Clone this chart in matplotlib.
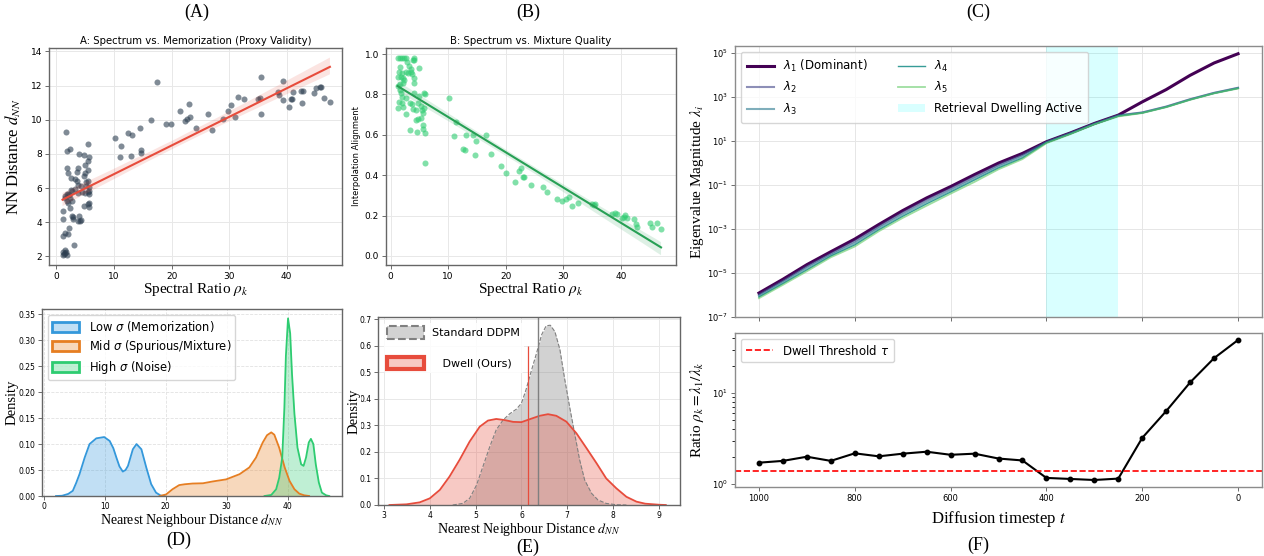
import numpy as np
import matplotlib.pyplot as plt
import matplotlib.patches as mpatches
import seaborn as sns

plt.rcParams['font.family'] = ['DejaVu Sans']
plt.rcParams['mathtext.fontset'] = 'dejavusans'

SERIF = ['Liberation Serif', 'DejaVu Serif']

# ---------------- data ----------------
# (A) spectral ratio vs nearest-neighbour distance
a_rho = [10.1, 11.0, 11.2, 12.5, 12.9, 13.1, 14.5, 14.6, 14.7, 16.4, 17.5, 19.1, 19.9,
         21.5, 22.4, 22.6, 23.1, 23.2, 24.3, 26.4, 27.1, 28.9, 29.8, 30.4, 31.0, 31.6,
         32.6, 35.0, 35.4, 35.6, 35.6, 38.4, 38.6, 39.3, 39.4, 40.4, 40.7, 40.9, 41.1,
         42.5, 42.7, 42.8, 44.7, 45.1, 45.7, 45.9, 46.5, 47.5,
         1.57, 1.86, 2.33, 1.86, 1.92, 3.9, 4.7, 3.8, 3.6, 3.2, 2.5, 4.9, 5.4, 5.7, 5.4,
         5.5, 5.0, 4.7, 3.55, 5.1, 5.5, 3.8, 4.25, 5.1, 5.65, 5.7, 3.2, 2.45, 2.7, 1.86,
         2.15, 1.5, 1.46, 1.75, 1.92, 2.33, 2.7, 2.0, 3.8, 4.5, 4.95, 5.4, 5.65, 5.65,
         5.4, 5.7, 4.8, 2.4, 1.1, 2.7, 2.85, 3.8, 4.1, 4.3, 3.95, 1.2, 2.8, 2.15, 1.46,
         1.92, 1.05, 3.1, 1.46, 1.63, 1.17, 1.3, 1.05, 1.75, 1.46]
a_dnn = [8.96, 7.82, 8.47, 9.24, 7.90, 9.10, 9.53, 8.22, 8.04, 9.97, 12.19, 9.77, 9.73,
         10.54, 9.91, 10.03, 10.91, 10.16, 9.53, 10.34, 9.42, 10.03, 10.54, 10.85, 10.18,
         11.36, 11.19, 11.19, 11.29, 10.34, 12.50, 11.60, 11.46, 12.25, 11.13, 10.73,
         11.23, 11.23, 11.60, 11.70, 10.97, 11.66, 11.54, 11.84, 11.90, 11.90, 11.25, 11.05,
         9.28, 8.20, 8.26, 7.15, 6.90, 8.0, 7.92, 7.15, 6.94, 6.56, 6.58, 7.35, 8.59, 7.8,
         7.6, 7.07, 6.9, 6.72, 6.43, 6.37, 6.39, 6.17, 6.13, 6.11, 6.09, 5.83, 5.93, 5.87,
         5.83, 5.64, 5.60, 5.54, 5.40, 5.24, 5.15, 5.44, 5.24, 5.64, 5.70, 5.80, 5.74,
         5.78, 5.64, 5.15, 5.09, 4.89, 4.97, 4.85, 4.64, 4.36, 4.30, 4.06, 4.10, 4.14,
         4.34, 4.18, 4.22, 3.67, 3.36, 3.34, 3.22, 2.67, 2.39, 2.29, 2.25, 2.14, 2.06,
         2.10, 2.18]

# (B) spectral ratio vs interpolation alignment
b_rho = [1.2, 1.6, 2.0, 2.4, 2.7, 4.0, 4.1, 2.9, 3.2, 1.56, 3.6, 5.0, 3.9, 1.45, 2.0,
         2.6, 3.06, 3.5, 3.76, 1.27, 1.73, 2.2, 2.4, 4.0, 4.0, 1.6, 2.1, 1.27, 1.6, 1.85,
         2.0, 2.6, 4.0, 5.8, 6.0, 5.0, 1.45, 1.33, 2.2, 2.0, 3.35, 3.8, 4.7, 4.5, 3.9,
         5.2, 5.5, 5.8, 5.7, 2.7, 4.8, 5.2, 4.5, 5.55, 5.7, 3.35, 4.6, 5.9, 5.9,
         10.2, 11.3, 11.0, 13.1, 14.3, 14.8, 16.5, 12.5, 12.95, 14.6, 17.5, 19.1, 20.0,
         21.6, 22.4, 22.6, 23.0, 23.2, 24.4, 26.4, 27.1, 28.9, 29.8, 30.5, 31.0, 31.6,
         32.5, 35.0, 35.4, 35.5, 38.5, 39.0, 39.3, 40.2, 40.5, 40.8, 41.0, 42.3, 42.6,
         42.9, 45.0, 45.5, 46.3, 47.0]
b_align = [0.98, 0.98, 0.98, 0.98, 0.98, 0.98, 0.97, 0.96, 0.94, 0.937, 0.925, 0.93,
           0.97, 0.91, 0.908, 0.912, 0.904, 0.912, 0.90, 0.885, 0.888, 0.88, 0.871, 0.88,
           0.855, 0.851, 0.858, 0.842, 0.822, 0.805, 0.789, 0.78, 0.808, 0.808, 0.80,
           0.792, 0.764, 0.731, 0.739, 0.756, 0.759, 0.752, 0.759, 0.723, 0.729, 0.742,
           0.723, 0.731, 0.706, 0.703, 0.678, 0.681, 0.673, 0.649, 0.629, 0.624, 0.612,
           0.607, 0.462,
           0.784, 0.662, 0.596, 0.599, 0.599, 0.568, 0.601, 0.530, 0.525, 0.500, 0.503,
           0.446, 0.413, 0.366, 0.422, 0.434, 0.389, 0.389, 0.351, 0.340, 0.315, 0.282,
           0.272, 0.282, 0.290, 0.248, 0.264, 0.256, 0.251, 0.257, 0.21, 0.215, 0.21,
           0.19, 0.195, 0.205, 0.19, 0.185, 0.16, 0.145, 0.165, 0.145, 0.165, 0.135]

# (C) eigenvalue spectrum over the reverse diffusion
timesteps = [1000, 950, 900, 850, 800, 750, 700, 650, 600, 550, 500,
             450, 400, 350, 300, 250, 200, 150, 100, 50, 0]
lam1 = [1.23e-6, 5.2e-6, 2.4e-5, 9.3e-5, 3.5e-4, 1.6e-3, 6.9e-3, 2.6e-2, 8.5e-2, 0.30, 1.0,
        2.75, 9.3, 23.4, 63, 151, 603, 2190, 9770, 35500, 93300]
lam2 = [1.05e-6, 4.4e-6, 2.0e-5, 7.6e-5, 2.8e-4, 1.3e-3, 5.6e-3, 2.1e-2, 6.9e-2, 0.24, 0.82,
        2.35, 9.1, 23.0, 62, 148, 200, 370, 800, 1560, 2650]
lam3 = [9.2e-7, 3.8e-6, 1.7e-5, 6.6e-5, 2.3e-4, 1.1e-3, 4.6e-3, 1.7e-2, 5.7e-2, 0.20, 0.70,
        2.0, 8.8, 22.2, 60, 143, 195, 360, 780, 1520, 2580]
lam4 = [8.1e-7, 3.3e-6, 1.4e-5, 5.9e-5, 1.9e-4, 9.2e-4, 3.8e-3, 1.4e-2, 4.8e-2, 0.17, 0.60,
        1.7, 8.4, 21.3, 58, 137, 191, 352, 762, 1490, 2500]
lam5 = [7.15e-7, 2.9e-6, 1.2e-5, 5.2e-5, 1.6e-4, 7.9e-4, 3.2e-3, 1.15e-2, 4.05e-2, 0.139, 0.52,
        1.51, 7.95, 20.5, 56.8, 131, 187, 345, 746, 1467, 2436]
dwell_start, dwell_end = 400, 250

# (F) spectral ratio and threshold
ratio = [1.72, 1.80, 2.0, 1.80, 2.18, 2.02, 2.16, 2.27, 2.10, 2.16, 1.91,
         1.82, 1.17, 1.14, 1.11, 1.15, 3.22, 6.34, 13.1, 24.2, 38.3]
tau = 1.4

# (D) density curves per noise level
low_x = [2.0, 3.0, 4.0, 4.75, 5.3, 5.85, 6.7, 7.5, 8.6, 9.9, 10.8, 11.4, 11.9, 12.4, 12.95,
         13.4, 13.8, 14.6, 15.2, 16.0, 16.8, 17.6, 18.4, 19.2, 19.8]
low_y = [0.0, 0.0005, 0.004, 0.010, 0.025, 0.042, 0.074, 0.100, 0.111, 0.1135, 0.106, 0.092,
         0.074, 0.057, 0.047, 0.050, 0.058, 0.090, 0.100, 0.090, 0.055, 0.023, 0.0065,
         0.0006, 0.0]
mid_x = [19.0, 20.05, 21.1, 22.2, 23.1, 24.4, 26.1, 27.7, 29.9, 32.1, 33.7, 34.8, 35.9,
         36.6, 37.3, 37.8, 38.6, 39.5, 40.3, 41.1, 41.9, 42.7, 43.5]
mid_y = [0.0, 0.003, 0.013, 0.021, 0.0226, 0.024, 0.0245, 0.028, 0.032, 0.042, 0.055, 0.074,
         0.103, 0.117, 0.1225, 0.118, 0.093, 0.055, 0.029, 0.013, 0.0045, 0.0013, 0.0]
high_x = [36.2, 37.3, 38.1, 38.6, 39.1, 39.45, 39.7, 40.05, 40.4, 40.7, 41.1, 41.6, 42.2,
          42.6, 43.0, 43.45, 43.8, 44.2, 44.6, 45.1, 45.6, 46.3, 46.8]
high_y = [0.0, 0.002, 0.013, 0.035, 0.074, 0.17, 0.27, 0.342, 0.313, 0.235, 0.158, 0.093,
          0.061, 0.058, 0.074, 0.103, 0.11, 0.10, 0.061, 0.026, 0.0065, 0.0013, 0.0]

# (E) standard vs dwell sampler
std_x = [4.5, 4.72, 4.87, 5.02, 5.16, 5.31, 5.45, 5.6, 5.74, 5.89, 6.0, 6.1, 6.2, 6.33,
         6.44, 6.54, 6.63, 6.73, 6.84, 6.94, 7.05, 7.16, 7.27, 7.38, 7.53, 7.67, 7.85,
         8.07, 8.29]
std_y = [0.0, 0.006, 0.025, 0.075, 0.145, 0.22, 0.283, 0.32, 0.343, 0.361, 0.383, 0.434,
         0.496, 0.572, 0.641, 0.675, 0.677, 0.653, 0.585, 0.478, 0.371, 0.27, 0.17, 0.094,
         0.044, 0.019, 0.006, 0.001, 0.0]
dwell_x = [3.12, 3.49, 3.78, 4.0, 4.22, 4.43, 4.65, 4.87, 5.09, 5.27, 5.45, 5.63, 5.82,
           6.0, 6.18, 6.4, 6.58, 6.76, 6.98, 7.2, 7.42, 7.64, 7.85, 8.07, 8.29, 8.51,
           8.7, 9.0, 9.15]
dwell_y = [0.0, 0.0025, 0.01, 0.025, 0.057, 0.107, 0.17, 0.239, 0.295, 0.318, 0.324, 0.32,
           0.313, 0.312, 0.323, 0.336, 0.342, 0.336, 0.314, 0.27, 0.214, 0.157, 0.10,
           0.063, 0.031, 0.0126, 0.005, 0.001, 0.0]
std_mean, dwell_mean = 6.37, 6.15

# ---------------- layout ----------------
W, H = 1264, 556
fig = plt.figure(figsize=(W / 100, H / 100), dpi=100)


def box(l, t, r, b):
    return [l / W, 1 - b / H, (r - l) / W, (b - t) / H]


def style(ax, tick_size, spine='#666666'):
    for s in ax.spines.values():
        s.set_color(spine)
        s.set_linewidth(1.0)
    ax.tick_params(labelsize=tick_size, length=3, width=0.6, color='#555555', pad=2)
    ax.grid(True, color='#e8e8e8', lw=0.7)
    ax.set_axisbelow(True)


def serif_label(ax, axis, text, size, coord):
    kw = dict(fontsize=size, family=SERIF, math_fontfamily='stix')
    if axis == 'x':
        ax.set_xlabel(text, **kw)
        ax.xaxis.set_label_coords(0.5, coord)
    else:
        ax.set_ylabel(text, **kw)
        ax.yaxis.set_label_coords(coord, 0.5)


axA = fig.add_axes(box(49, 48, 342, 265))
axB = fig.add_axes(box(386, 48, 676, 265))
axC = fig.add_axes(box(735, 46, 1262, 317))
axD = fig.add_axes(box(42, 309, 342, 496))
axE = fig.add_axes(box(378, 317, 680, 505))
axF = fig.add_axes(box(735, 333, 1262, 487))

# ---- A ----
sns.regplot(x=np.array(a_rho), y=np.array(a_dnn), ax=axA, seed=0,
            scatter_kws=dict(s=19, alpha=0.6, color='#2c3e50', linewidths=0),
            line_kws=dict(color='#e74c3c', lw=1.5))
style(axA, 6.5)
axA.set_xlim(-1.3, 49.6)
axA.set_ylim(1.5, 14.2)
axA.set_xticks([0, 10, 20, 30, 40])
axA.set_yticks([2, 4, 6, 8, 10, 12, 14])
axA.set_title('A: Spectrum vs. Memorization (Proxy Validity)', fontsize=7.3, pad=3)
serif_label(axA, 'x', r'Spectral Ratio $\rho_k$', 11, -0.072)
serif_label(axA, 'y', r'NN Distance $d_{NN}$', 12, -0.09)

# ---- B ----
sns.regplot(x=np.array(b_rho), y=np.array(b_align), ax=axB, seed=0,
            scatter_kws=dict(s=19, alpha=0.6, color='#2ecc71', linewidths=0),
            line_kws=dict(color='#27a055', lw=1.5))
style(axB, 6.5)
axB.set_xlim(-0.8, 49.6)
axB.set_ylim(-0.045, 1.03)
axB.set_xticks([0, 10, 20, 30, 40])
axB.set_title('B: Spectrum vs. Mixture Quality', fontsize=7.3, pad=3)
serif_label(axB, 'x', r'Spectral Ratio $\rho_k$', 11, -0.072)
axB.set_ylabel('Interpolation Alignment', fontsize=6)
axB.yaxis.set_label_coords(-0.085, 0.5)

# ---- C ----
c_styles = [(lam1, '#440154', 2.2, 1.0, r'$\lambda_1$ (Dominant)'),
            (lam2, '#414487', 1.5, 0.6, r'$\lambda_2$'),
            (lam3, '#2a788e', 1.5, 0.6, r'$\lambda_3$'),
            (lam4, '#21918c', 1.0, 0.9, r'$\lambda_4$'),
            (lam5, '#5ec962', 1.3, 0.6, r'$\lambda_5$')]
for lam, c, lw, alpha, name in c_styles:
    axC.plot(timesteps, lam, color=c, lw=lw, alpha=alpha, label=name)
axC.axvspan(dwell_start, dwell_end, color='cyan', alpha=0.15, lw=0,
            label='Retrieval Dwelling Active')
axC.set_yscale('log')
axC.set_xlim(1050, -50)
axC.set_ylim(1e-7, 2.1e5)
axC.set_yticks([1e-7, 1e-5, 1e-3, 1e-1, 1e1, 1e3, 1e5])
axC.set_xticks([1000, 800, 600, 400, 200, 0])
style(axC, 6, spine='#8c8c8c')
axC.minorticks_off()
axC.tick_params(labelbottom=False)
axC.grid(True, color='#e6e6e6', lw=0.7)
axC.legend(loc='upper left', ncol=2, fontsize=8.5, handlelength=2.3, framealpha=0.8,
           borderpad=0.5, labelspacing=0.55, columnspacing=2.5)
serif_label(axC, 'y', r'Eigenvalue Magnitude $\lambda_i$', 11, -0.055)

# ---- F ----
axF.plot(timesteps, ratio, color='black', marker='o', ms=3.2, lw=1.5)
axF.axhline(tau, color='red', ls='--', lw=1.2, label=r'Dwell Threshold $\tau$')
axF.set_yscale('log')
axF.set_xlim(1050, -50)
axF.set_xticks([1000, 800, 600, 400, 200, 0])
style(axF, 6, spine='#8c8c8c')
axF.grid(False)
axF.legend(loc='upper left', fontsize=8.5, handlelength=2.3, framealpha=0.8)
serif_label(axF, 'x', r'Diffusion timestep $t$', 12, -0.14)
serif_label(axF, 'y', r'Ratio $\rho_k = \lambda_1/\lambda_k$', 11, -0.055)

# ---- D ----
d_sets = [(low_x, low_y, '#3498db', r'Low $\sigma$ (Memorization)'),
          (mid_x, mid_y, '#e67e22', r'Mid $\sigma$ (Spurious/Mixture)'),
          (high_x, high_y, '#2ecc71', r'High $\sigma$ (Noise)')]
handles = []
for xs, ys, c, name in d_sets:
    axD.fill_between(xs, ys, color=c, alpha=0.3, lw=0)
    axD.plot(xs, ys, color=c, lw=1.3)
    rgb = plt.matplotlib.colors.to_rgb(c)
    handles.append(mpatches.Patch(facecolor=(*rgb, 0.3), edgecolor=c, lw=2, label=name))
style(axD, 5.5)
axD.tick_params(pad=1.5)
axD.grid(True, color='#e2e2e2', lw=0.6, ls='--')
axD.set_xlim(-0.3, 48.9)
axD.set_ylim(0, 0.36)
axD.set_xticks([0, 10, 20, 30, 40])
axD.set_yticks([0, 0.05, 0.1, 0.15, 0.2, 0.25, 0.3, 0.35])
axD.yaxis.set_major_formatter(plt.FormatStrFormatter('%.2f'))
axD.legend(handles=handles, loc='upper left', fontsize=8.3, handlelength=2.4,
           handleheight=0.9, labelspacing=0.35, borderpad=0.35, framealpha=0.8)
serif_label(axD, 'x', r'Nearest Neighbour Distance $d_{NN}$', 10, -0.085)
serif_label(axD, 'y', 'Density', 10.5, -0.078)

# ---- E ----
axE.fill_between(std_x, std_y, color='gray', alpha=0.35, lw=0)
axE.plot(std_x, std_y, color='gray', ls='--', lw=0.8)
axE.fill_between(dwell_x, dwell_y, color='#e74c3c', alpha=0.3, lw=0)
axE.plot(dwell_x, dwell_y, color='#e74c3c', lw=1.3)
axE.axvline(std_mean, color='gray', lw=1.0)
axE.vlines(dwell_mean, 0, 0.6, color='#e74c3c', lw=0.9)
style(axE, 5.5)
axE.tick_params(pad=1.5)
axE.set_xlim(2.87, 9.46)
axE.set_ylim(0, 0.708)
axE.set_xticks([3, 4, 5, 6, 7, 8, 9])
axE.set_yticks([0, 0.1, 0.2, 0.3, 0.4, 0.5, 0.6, 0.7])
e_handles = [mpatches.Patch(facecolor=(0.5, 0.5, 0.5, 0.35), edgecolor='gray', ls='--',
                            lw=1.5, label='Standard DDPM'),
             mpatches.Patch(facecolor=(0.906, 0.298, 0.235, 0.3), edgecolor='#e74c3c',
                            lw=3, label='   Dwell (Ours)')]
axE.legend(handles=e_handles, loc='upper left', fontsize=8, handlelength=3.3,
           handleheight=1.4, labelspacing=1.6, frameon=True, edgecolor='none',
           framealpha=0.85, borderpad=0.3)
serif_label(axE, 'x', r'Nearest Neighbour Distance $d_{NN}$', 10, -0.085)
axE.set_ylabel('Density', fontsize=10.5, family=SERIF,
               bbox=dict(facecolor='white', edgecolor='none', pad=0.3))
axE.yaxis.set_label_coords(-0.058, 0.5)

# ---- panel letters ----
for letter, x, y in [('(A)', 197, 12), ('(B)', 528, 12), ('(C)', 978, 12),
                     ('(D)', 179, 540), ('(E)', 528, 547), ('(F)', 978, 545)]:
    fig.text(x / W, 1 - y / H, letter, ha='center', va='center', fontsize=13,
             family=SERIF)

fig.savefig('out.png', dpi=100)
